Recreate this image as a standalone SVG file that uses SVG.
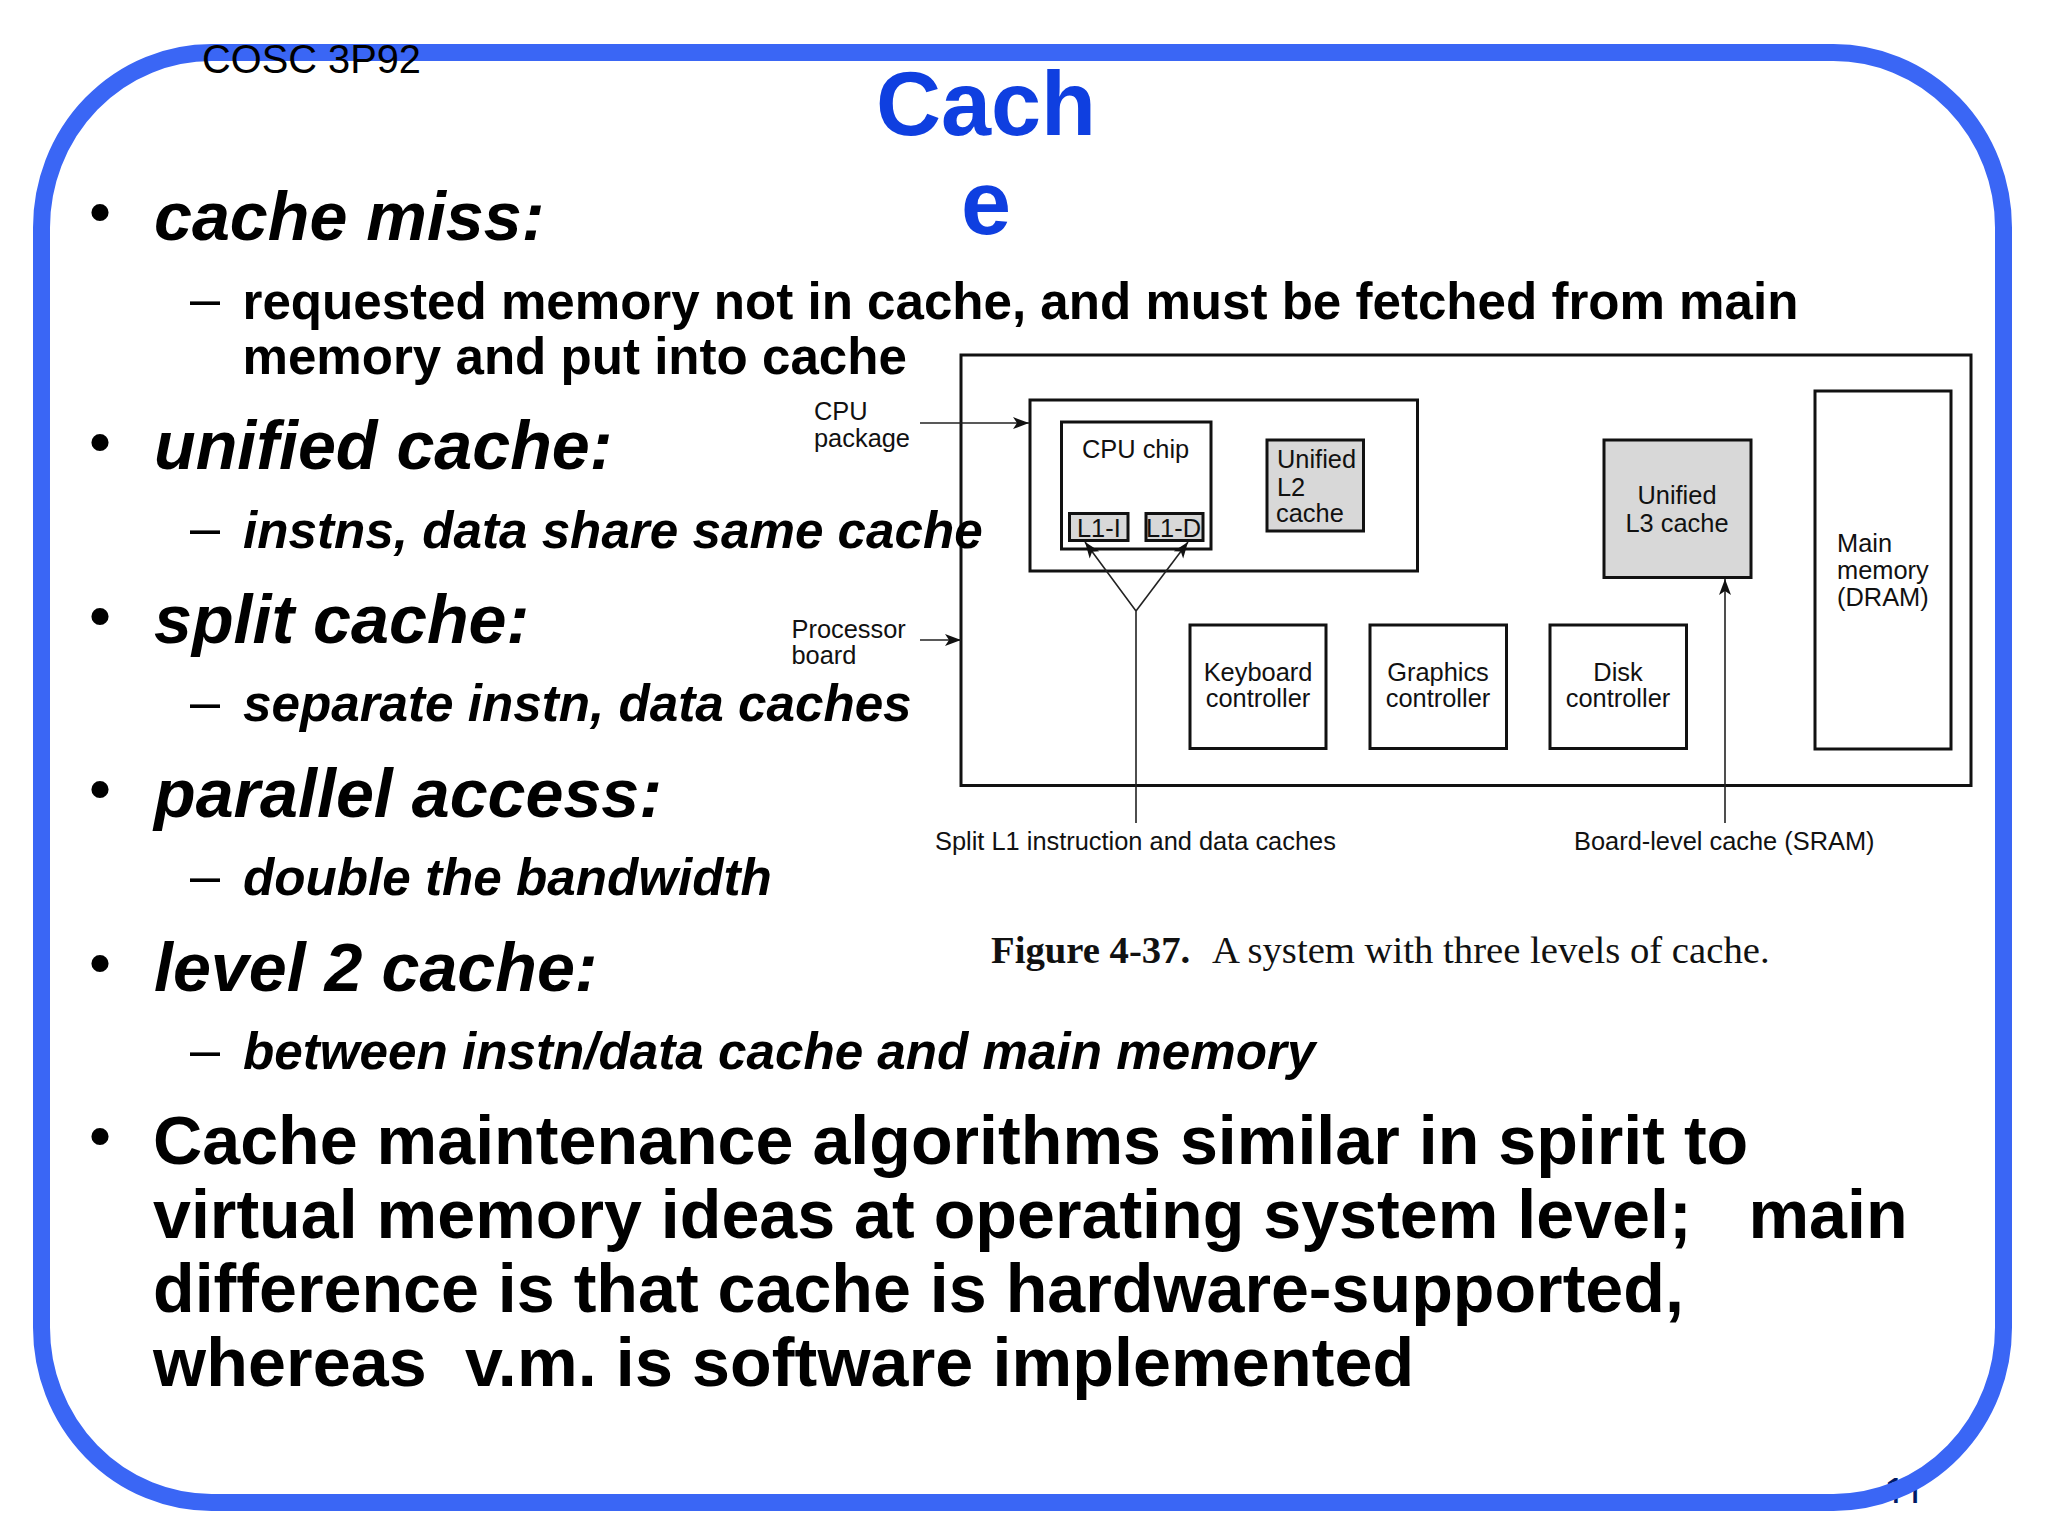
<svg xmlns="http://www.w3.org/2000/svg" width="2048" height="1536" viewBox="0 0 2048 1536">
<style>
text{font-family:"Liberation Sans",Arial,sans-serif;fill:#000}
.h{font-size:68.2px;font-weight:bold;font-style:italic}
.s{font-size:51.2px;font-weight:bold;font-style:italic}
.u{font-size:51.1px;font-weight:bold}
.b{font-size:68.2px;font-weight:bold}
.dot{font-size:60px;font-weight:bold}
.dash{font-size:54px}
.t{font-size:90px;font-weight:bold;fill:#0f3fe0;text-anchor:middle}
.d{font-size:25.4px;fill:#111}
.m{text-anchor:middle}
.box{fill:#fff;stroke:#111;stroke-width:3}
.g{fill:#d8d8d8;stroke:#111;stroke-width:3}
.c{fill:none;stroke:#222;stroke-width:1.6}
.cap{font-family:"Liberation Serif",serif;font-size:38.7px;fill:#111}
</style>
<defs>
<marker id="ah" markerUnits="userSpaceOnUse" markerWidth="18" markerHeight="14" refX="16" refY="7" orient="auto">
<path d="M0 1 L16 7 L0 13 L4 7 Z" fill="#111"/>
</marker>
<clipPath id="pg"><rect x="1860" y="1460" width="80" height="43"/></clipPath>
</defs>
<rect width="2048" height="1536" fill="#fff"/>
<g clip-path="url(#pg)"><text x="1884" y="1506" style="font-size:40px;fill:#001a66">11</text></g>
<rect id="frame" x="41.5" y="52.500" width="1962" height="1450" rx="170" ry="175" fill="none" stroke="#3a66f5" stroke-width="17"/>
<g id="figure-board"><rect class="box" x="961" y="355" width="1010" height="430.500"/></g>
<g id="cpu-package"><rect class="box" x="1030" y="400" width="387.500" height="171"/></g>
<g id="cpu-chip"><rect class="box" x="1061.500" y="422" width="149.500" height="127"/><text class="d" x="1082" y="458">CPU chip</text></g>
<g id="l1-i"><rect class="g" x="1069.500" y="513.500" width="58.500" height="27"/><text class="d" x="1077" y="536.500">L1-I</text></g>
<g id="l1-d"><rect class="g" x="1146" y="513.500" width="57" height="27"/><text class="d" x="1146" y="536.500">L1-D</text></g>
<g id="l2"><rect class="g" x="1267" y="440" width="96.500" height="91"/><text class="d" x="1277" y="468">Unified</text><text class="d" x="1277" y="496">L2</text><text class="d" x="1276" y="522">cache</text></g>
<g id="l3"><rect class="g" x="1604" y="440" width="147" height="137.500"/><text class="d m" x="1677" y="504">Unified</text><text class="d m" x="1677" y="532">L3 cache</text></g>
<g id="main-memory"><rect class="box" x="1815" y="391" width="136" height="358"/><text class="d" x="1837" y="552">Main</text><text class="d" x="1837" y="579">memory</text><text class="d" x="1837" y="606">(DRAM)</text></g>
<g id="keyboard"><rect class="box" x="1190" y="625" width="136" height="123.500"/><text class="d m" x="1258" y="680.500">Keyboard</text><text class="d m" x="1258" y="707">controller</text></g>
<g id="graphics"><rect class="box" x="1370" y="625" width="136.500" height="123.500"/><text class="d m" x="1438" y="680.500">Graphics</text><text class="d m" x="1438" y="707">controller</text></g>
<g id="disk"><rect class="box" x="1550" y="625" width="136.500" height="123.500"/><text class="d m" x="1618" y="680.500">Disk</text><text class="d m" x="1618" y="707">controller</text></g>
<g id="connectors">
<path class="c" d="M920 423H1029" marker-end="url(#ah)"/>
<path class="c" d="M920 640H961" marker-end="url(#ah)"/>
<path class="c" d="M1136 823V611L1085 542" marker-end="url(#ah)"/>
<path class="c" d="M1136 611L1188 542" marker-end="url(#ah)"/>
<path class="c" d="M1725 823V579" marker-end="url(#ah)"/>
</g>
<g id="figure-labels">
<text class="d" x="814" y="420">CPU</text><text class="d" x="814" y="447">package</text>
<text class="d" x="791.500" y="638">Processor</text><text class="d" x="791.500" y="664">board</text>
<text class="d" x="935" y="850">Split L1 instruction and data caches</text>
<text class="d" x="1574" y="850">Board-level cache (SRAM)</text>
<text class="cap" x="991" y="962.500" font-weight="bold">Figure 4-37.</text>
<text class="cap" x="1212" y="962.500">A system with three levels of cache.</text>
</g>
<g id="slide-text">
<text x="202" y="73" style="font-size:39.8px">COSC 3P92</text>
<text class="t" x="986" y="135">Cach</text><text class="t" x="986" y="234">e</text>
<text class="dot" x="89.500" y="232">•</text><text class="h" x="154" y="239.500">cache miss:</text>
<text class="dash" x="190" y="317">–</text><text class="u" x="242.500" y="318.500">requested memory not in cache, and must be fetched from main</text>
<text class="u" x="242.500" y="373.500">memory and put into cache</text>
<text class="dot" x="89.500" y="462">•</text><text class="h" x="154" y="469">unified cache:</text>
<text class="dash" x="190" y="546">–</text><text class="s" x="243" y="547.500">instns, data share same cache</text>
<text class="dot" x="89.500" y="636">•</text><text class="h" x="154" y="643">split cache:</text>
<text class="dash" x="190" y="720">–</text><text class="s" x="243" y="721">separate instn, data caches</text>
<text class="dot" x="89.500" y="809">•</text><text class="h" x="154" y="816.500">parallel access:</text>
<text class="dash" x="190" y="894">–</text><text class="s" x="243" y="894.500">double the bandwidth</text>
<text class="dot" x="89.500" y="983">•</text><text class="h" x="154" y="990.500">level 2 cache:</text>
<text class="dash" x="190" y="1068">–</text><text class="s" x="243" y="1069">between instn/data cache and main memory</text>
<text class="dot" x="89.500" y="1156">•</text><text class="b" x="153" y="1164">Cache maintenance algorithms similar in spirit to</text>
<text class="b" x="153" y="1238" xml:space="preserve">virtual memory ideas at operating system level;   main</text>
<text class="b" x="153" y="1312">difference is that cache is hardware-supported,</text>
<text class="b" x="153" y="1386" xml:space="preserve" style="letter-spacing:.12px">whereas  v.m. is software implemented</text>
</g>
</svg>
